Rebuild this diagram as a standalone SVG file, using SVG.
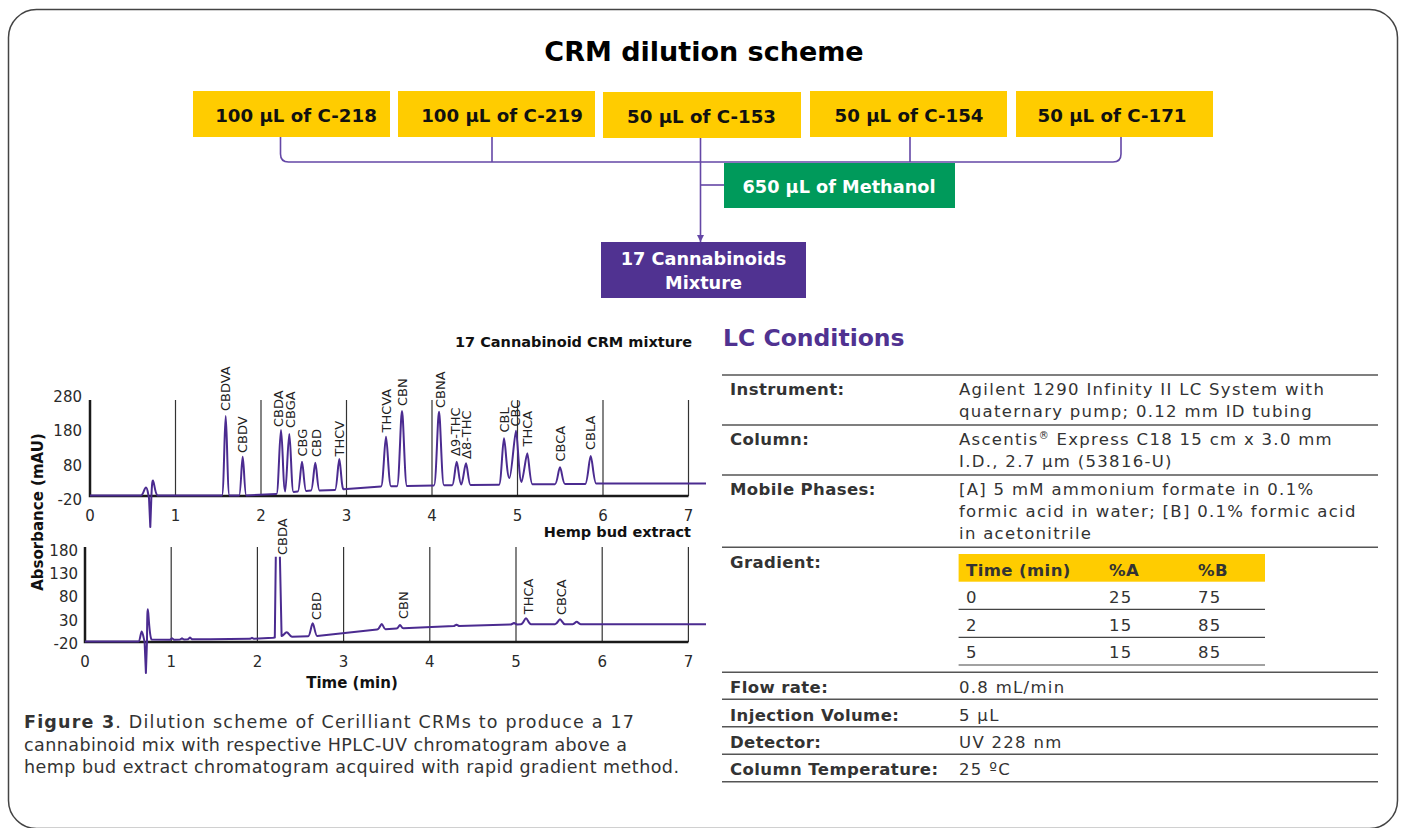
<svg xmlns="http://www.w3.org/2000/svg" width="1406" height="828" viewBox="0 0 1406 828">
<defs>
<style>
.f{font-family:"DejaVu Sans","Liberation Sans",sans-serif}
.bt{font-family:"DejaVu Sans","Liberation Sans",sans-serif;font-weight:bold;font-size:18.2px;fill:#111;text-anchor:middle}
.wt{font-family:"DejaVu Sans","Liberation Sans",sans-serif;font-weight:bold;font-size:17.7px;fill:#fff;text-anchor:middle}
.conn{fill:none;stroke:#6447a6;stroke-width:1.6}
.grid{stroke:#333;stroke-width:1.2}
.axis{stroke:#1a1a1a;stroke-width:2.5;fill:none}
.curve{fill:none;stroke:#4b2b90;stroke-width:2;stroke-linejoin:round}
.tick{font-family:"DejaVu Sans",sans-serif;font-size:15px;fill:#2a2a2a}
.pk{font-family:"DejaVu Sans",sans-serif;font-size:13px;fill:#222}
.ctitle{font-family:"DejaVu Sans",sans-serif;font-size:14.5px;font-weight:bold;fill:#111;text-anchor:end}
.tl{font-family:"DejaVu Sans",sans-serif;font-size:16.5px;font-weight:bold;fill:#333;letter-spacing:0.4px}
.tv{font-family:"DejaVu Sans",sans-serif;font-size:16.5px;fill:#333;letter-spacing:1.3px}
.rule{stroke:#555;stroke-width:1.6}
.grule{stroke:#444;stroke-width:1.2}
.cap{font-family:"DejaVu Sans",sans-serif;font-size:17.5px;fill:#333}
</style>
<marker id="arr" viewBox="0 0 10 10" refX="10" refY="5" markerWidth="7" markerHeight="7" markerUnits="userSpaceOnUse" orient="auto">
<path d="M0,0 L10,5 L0,10 z" fill="#6447a6"/>
</marker>
</defs>
<rect x="0" y="0" width="1406" height="828" fill="#fff"/>
<rect x="8.5" y="9.5" width="1389" height="819" rx="28" fill="none" stroke="#444" stroke-width="1.5"/>

<text x="704" y="61" class="f" font-size="27" font-weight="bold" fill="#000" text-anchor="middle">CRM dilution scheme</text>

<g id="connectors">
<path class="conn" d="M280.5,137 V154 Q280.5,162 288.5,162 H1113 Q1121,162 1121,154 V137"/>
<path class="conn" d="M492,137 V162"/>
<path class="conn" d="M910,137 V162"/>
<path class="conn" d="M700.5,138 V242" marker-end="url(#arr)"/>
<path class="conn" d="M700.5,185 H724"/>
</g>

<g id="n-c218"><rect x="193" y="91" width="197" height="46" fill="#FFCC00"/><text x="296" y="122" class="bt">100 µL of C-218</text></g>
<g id="n-c219"><rect x="398" y="91" width="197" height="46" fill="#FFCC00"/><text x="502" y="122" class="bt">100 µL of C-219</text></g>
<g id="n-c153"><rect x="603" y="92" width="198" height="46" fill="#FFCC00"/><text x="701.5" y="122.5" class="bt">50 µL of C-153</text></g>
<g id="n-c154"><rect x="810" y="91" width="197" height="46" fill="#FFCC00"/><text x="909" y="122" class="bt">50 µL of C-154</text></g>
<g id="n-c171"><rect x="1016" y="91" width="197" height="46" fill="#FFCC00"/><text x="1112" y="122" class="bt">50 µL of C-171</text></g>
<g id="n-methanol"><rect x="724" y="163" width="231" height="45" fill="#009A5B"/><text x="839" y="193" class="wt">650 µL of Methanol</text></g>
<g id="n-mixture"><rect x="601" y="242" width="205" height="56" fill="#503291"/><text x="703.5" y="265" class="wt" font-size="17.6">17 Cannabinoids</text><text x="703.5" y="288.5" class="wt" font-size="17.6">Mixture</text></g>

<!-- Top chromatogram -->
<g id="chrom-top">
<text x="692" y="347" class="ctitle">17 Cannabinoid CRM mixture</text>
<g>
<line class="grid" x1="175.5" y1="400" x2="175.5" y2="496"/>
<line class="grid" x1="261" y1="400" x2="261" y2="496"/>
<line class="grid" x1="346.5" y1="400" x2="346.5" y2="496"/>
<line class="grid" x1="432" y1="400" x2="432" y2="496"/>
<line class="grid" x1="517.5" y1="400" x2="517.5" y2="496"/>
<line class="grid" x1="603" y1="400" x2="603" y2="496"/>
<line class="grid" x1="688.5" y1="400" x2="688.5" y2="496"/>
</g>
<path class="axis" d="M90,400 V496 H688.5"/>
<g class="tick" text-anchor="end">
<text x="82" y="402">280</text><text x="82" y="436">180</text><text x="82" y="470.5">80</text><text x="82" y="505">-20</text>
</g>
<g class="tick" text-anchor="middle">
<text x="90" y="521">0</text><text x="175.5" y="521">1</text><text x="261" y="521">2</text><text x="346.5" y="521">3</text><text x="432" y="521">4</text><text x="517.5" y="521">5</text><text x="603" y="521">6</text><text x="688.5" y="521">7</text>
</g>
<path class="curve" d="M90,495.5 H141 C143,495.5 144.5,487.5 146,487.5 C147.5,487.5 148,494 149,498 L150.3,527 L151.3,499 C152,481 152.5,480.5 153,480.5 C154,480.5 155,494.5 157.5,495.5 H221.9 C223.9,495.5 224.6,416 225.7,416 C226.8,416 227.5,495.5 229.5,495.5 H239.1 C240.9,495.5 241.6,456.7 242.7,456.7 C243.8,456.7 244.5,495.5 246.3,495.5 L276.5,494 C278.5,494 279.6,430 281,430 C282.4,430 283.2,491.5 285.2,491.5 C286.5,491.5 288,434 289.3,434 C290.6,434 291.5,492 293.5,492 L297.8,491.5 C299.7,491.5 300.8,461.7 302,461.7 C303.2,461.7 304.2,491 306.2,491 L311,490.5 C313,490.5 314.1,462.7 315.3,462.7 C316.5,462.7 317.5,490.5 319.5,490.5 L335,490 C337,490 338.1,459 339.3,459 C340.5,459 341.5,489.5 343.5,489.3 L381,486.5 C383.3,486.5 384.6,436.7 386,436.7 C387.4,436.7 388.7,486.3 391,486.3 L397,486.2 C399.3,486.2 400.6,411 402,411 C403.4,411 404.7,486 407,486 L434,485.5 C436.3,485.5 437.6,411.7 439,411.7 C440.4,411.7 441.7,485.3 444,485.3 L452.2,485.2 C454.2,485.2 455.4,461.7 456.7,461.7 C458,461.7 459.2,484.5 461.3,484.5 C462.8,484.5 464.7,463.3 466,463.3 C467.3,463.3 468.5,485 470.5,485 L499,484.8 C501.3,484.8 502.6,438.3 504,438.3 C505.4,438.3 506.7,478 509.5,478 C511.5,478 514.6,430.7 516,430.7 C517.4,430.7 519,482 521.5,482 C523,482 526,453.3 527.3,453.3 C528.6,453.3 529.9,484.3 532.5,484.3 L555,484.2 C557.3,484.2 558.6,467.3 560,467.3 C561.4,467.3 562.7,484 565,484 L585.2,484 C587.7,484 589.2,456 590.7,456 C592.2,456 593.7,483.5 596.2,483.5 H706"/>
<g class="pk">
<text transform="translate(230.2,411) rotate(-90)">CBDVA</text>
<text transform="translate(247.2,453) rotate(-90)">CBDV</text>
<text transform="translate(282.8,427) rotate(-90)">CBDA</text>
<text transform="translate(294.5,428) rotate(-90)">CBGA</text>
<text transform="translate(307.2,456.5) rotate(-90)">CBG</text>
<text transform="translate(320.5,457) rotate(-90)">CBD</text>
<text transform="translate(343.8,456.5) rotate(-90)">THCV</text>
<text transform="translate(390.5,432.5) rotate(-90)">THCVA</text>
<text transform="translate(407.2,406) rotate(-90)">CBN</text>
<text transform="translate(444.5,408) rotate(-90)">CBNA</text>
<text transform="translate(460.2,456) rotate(-90)">Δ9-THC</text>
<text transform="translate(470.5,459) rotate(-90)">Δ8-THC</text>
<text transform="translate(508.8,432.5) rotate(-90)">CBL</text>
<text transform="translate(520.2,426.5) rotate(-90)">CBC</text>
<text transform="translate(532.2,446.5) rotate(-90)">THCA</text>
<text transform="translate(564.5,461.5) rotate(-90)">CBCA</text>
<text transform="translate(595.2,450) rotate(-90)">CBLA</text>
</g>
</g>

<!-- Bottom chromatogram -->
<g id="chrom-bottom">
<text x="691" y="537" class="ctitle">Hemp bud extract</text>
<g>
<line class="grid" x1="171.2" y1="547" x2="171.2" y2="642"/>
<line class="grid" x1="257.4" y1="547" x2="257.4" y2="642"/>
<line class="grid" x1="343.6" y1="547" x2="343.6" y2="642"/>
<line class="grid" x1="429.8" y1="547" x2="429.8" y2="642"/>
<line class="grid" x1="516" y1="547" x2="516" y2="642"/>
<line class="grid" x1="602.2" y1="547" x2="602.2" y2="642"/>
<line class="grid" x1="688.4" y1="547" x2="688.4" y2="642"/>
</g>
<path class="axis" d="M85,547 V642 H688.4"/>
<g class="tick" text-anchor="end">
<text x="78" y="555.5">180</text><text x="78" y="579">130</text><text x="78" y="602.2">80</text><text x="78" y="625.5">30</text><text x="78" y="649">-20</text>
</g>
<g class="tick" text-anchor="middle">
<text x="85" y="667">0</text><text x="171.2" y="667">1</text><text x="257.4" y="667">2</text><text x="343.6" y="667">3</text><text x="429.8" y="667">4</text><text x="516" y="667">5</text><text x="602.2" y="667">6</text><text x="688.4" y="667">7</text>
</g>
<path class="curve" d="M85,641.5 H138.5 C140,641.5 140.8,631.5 141.7,631.5 C142.6,631.5 143.5,637 144.6,642 L145.9,673 L147,641 C147.2,612 147.5,609.3 147.9,609.3 C148.4,609.3 149.2,636 151.5,639.5 L170,639.8 l2,-1.5 l2,1.5 L180,639.5 l2,-1.2 l2,1.2 L188,639.3 l2,-1.8 l2,1.8 L210,639.3 L250,638.8 l2,-1 l2,1 L273,637.8 L274.8,637.5 L275.8,556.7 M279.9,556.7 L281.6,636 C283,636.5 285,632.3 286.7,632.3 C288.5,632.3 289.5,636.5 292,636.7 L308.2,636.3 C310.2,636.3 311.4,623.3 312.7,623.3 C314,623.3 315.2,636 317.2,636 L377,629.5 C379.5,629.5 380.5,624 381.7,624 C382.9,624 383.9,629.3 385.5,629.3 L396.5,628.5 C398.5,628.5 399,625 400,625 C401,625 401.6,628.3 403.5,628.3 L454,626 l2.5,-1.3 l2.5,1.3 L511,624.5 l3,-1.5 l3,1.5 L521,624.2 C523.2,624.2 524.6,618.3 526,618.3 C527.4,618.3 528.8,624.3 531,624.3 L555,624.2 C557.2,624.2 558.6,619.3 560,619.3 C561.4,619.3 562.8,624.3 565,624.3 L572.7,624.2 C574.5,624.2 575.5,621.7 576.7,621.7 C577.9,621.7 578.9,624.2 580.7,624.2 H706"/>
<g class="pk">
<text transform="translate(287.2,555) rotate(-90)">CBDA</text>
<text transform="translate(320.5,620) rotate(-90)">CBD</text>
<text transform="translate(407.8,619) rotate(-90)">CBN</text>
<text transform="translate(532.8,614.3) rotate(-90)">THCA</text>
<text transform="translate(566.2,615) rotate(-90)">CBCA</text>
</g>
<text x="352" y="688" class="f" font-size="15" font-weight="bold" fill="#111" text-anchor="middle">Time (min)</text>
</g>
<text transform="translate(42.5,512) rotate(-90)" class="f" font-size="15" font-weight="bold" fill="#111" text-anchor="middle">Absorbance (mAU)</text>

<!-- Caption -->
<g id="caption" class="cap">
<text x="24" y="728" textLength="610"><tspan font-weight="bold">Figure 3</tspan>. Dilution scheme of Cerilliant CRMs to produce a 17</text>
<text x="24" y="750.5" textLength="603">cannabinoid mix with respective HPLC-UV chromatogram above a</text>
<text x="24" y="773" textLength="655">hemp bud extract chromatogram acquired with rapid gradient method.</text>
</g>

<!-- LC Conditions table -->
<g id="lc-table">
<text x="723" y="346" class="f" font-size="23.5" font-weight="bold" fill="#503291">LC Conditions</text>
<line class="rule" x1="722" y1="375" x2="1378" y2="375"/>
<line class="rule" x1="722" y1="425" x2="1378" y2="425"/>
<line class="rule" x1="722" y1="475" x2="1378" y2="475"/>
<line class="rule" x1="722" y1="547.3" x2="1378" y2="547.3"/>
<line class="rule" x1="722" y1="672.3" x2="1378" y2="672.3"/>
<line class="rule" x1="722" y1="699.3" x2="1378" y2="699.3"/>
<line class="rule" x1="722" y1="726.7" x2="1378" y2="726.7"/>
<line class="rule" x1="722" y1="754.3" x2="1378" y2="754.3"/>
<line class="rule" x1="722" y1="781.7" x2="1378" y2="781.7"/>

<text x="730" y="395" class="tl">Instrument:</text>
<text x="959" y="395" class="tv">Agilent 1290 Infinity II LC System with</text>
<text x="959" y="416.7" class="tv">quaternary pump; 0.12 mm ID tubing</text>

<text x="730" y="445" class="tl">Column:</text>
<text x="959" y="445" class="tv">Ascentis<tspan font-size="10" dy="-6">®</tspan><tspan dy="6"> Express C18 15 cm x 3.0 mm</tspan></text>
<text x="959" y="466.7" class="tv">I.D., 2.7 µm (53816-U)</text>

<text x="730" y="495" class="tl">Mobile Phases:</text>
<text x="959" y="495" class="tv">[A] 5 mM ammonium formate in 0.1%</text>
<text x="959" y="517" class="tv">formic acid in water; [B] 0.1% formic acid</text>
<text x="959" y="539" class="tv">in acetonitrile</text>

<text x="730" y="568" class="tl">Gradient:</text>
<rect x="958.6" y="554" width="306.4" height="27.7" fill="#FFCC00"/>
<text x="966" y="575.5" class="tl" fill="#222">Time (min)</text>
<text x="1109" y="575.5" class="tl" fill="#222">%A</text>
<text x="1198" y="575.5" class="tl" fill="#222">%B</text>
<text x="966" y="603.3" class="tv">0</text><text x="1109" y="603.3" class="tv">25</text><text x="1198" y="603.3" class="tv">75</text>
<line class="grule" x1="958.6" y1="609.3" x2="1265" y2="609.3"/>
<text x="966" y="630.7" class="tv">2</text><text x="1109" y="630.7" class="tv">15</text><text x="1198" y="630.7" class="tv">85</text>
<line class="grule" x1="958.6" y1="637.3" x2="1265" y2="637.3"/>
<text x="966" y="658.3" class="tv">5</text><text x="1109" y="658.3" class="tv">15</text><text x="1198" y="658.3" class="tv">85</text>
<line class="grule" x1="958.6" y1="665" x2="1265" y2="665"/>

<text x="730" y="692.7" class="tl">Flow rate:</text>
<text x="959" y="692.7" class="tv">0.8 mL/min</text>
<text x="730" y="720.7" class="tl">Injection Volume:</text>
<text x="959" y="720.7" class="tv">5 µL</text>
<text x="730" y="747.7" class="tl">Detector:</text>
<text x="959" y="747.7" class="tv">UV 228 nm</text>
<text x="730" y="775" class="tl">Column Temperature:</text>
<text x="959" y="775" class="tv">25 ºC</text>
</g>
</svg>
